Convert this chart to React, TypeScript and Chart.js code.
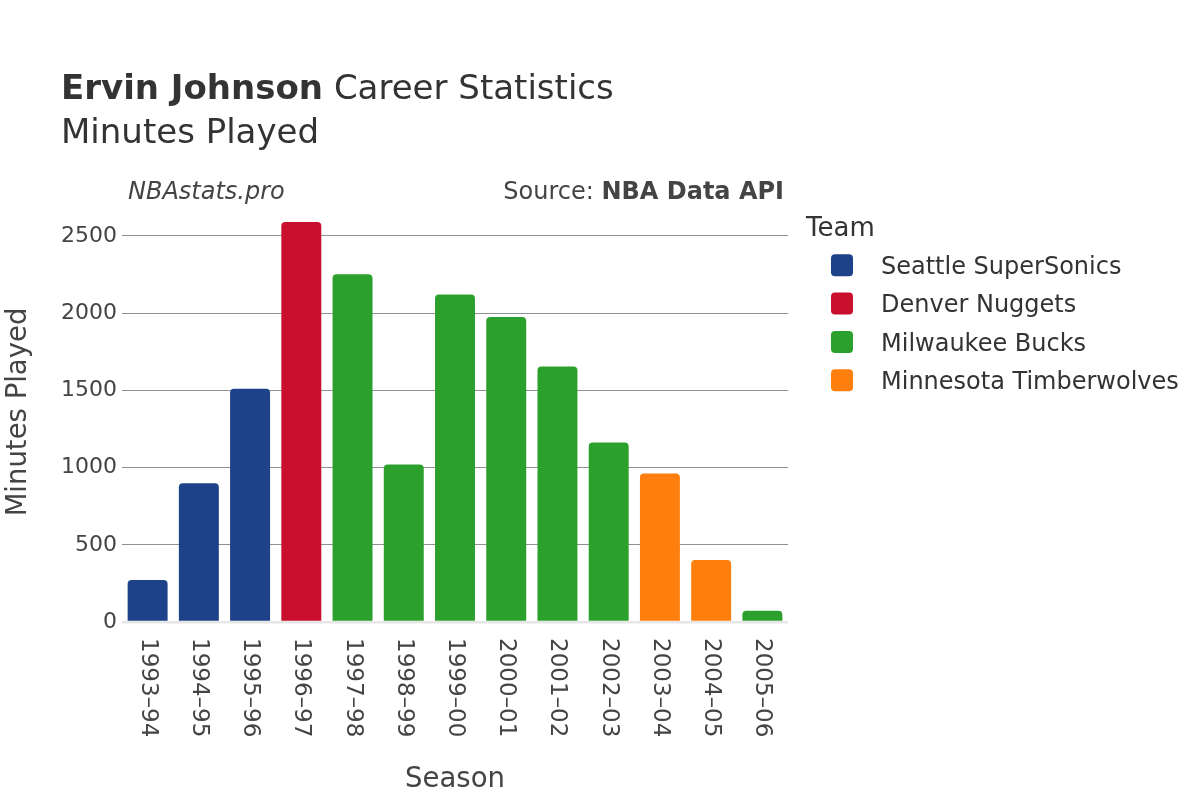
import React, { useEffect, useRef } from "react";
import { Chart, registerables } from "chart.js";

Chart.register(...registerables);

const seasons = ["1993–94", "1994–95", "1995–96", "1996–97", "1997–98", "1998–99", "1999–00", "2000–01", "2001–02", "2002–03", "2003–04", "2004–05", "2005–06"];
const teams = ["Seattle SuperSonics", "Denver Nuggets", "Milwaukee Bucks", "Minnesota Timberwolves"];
const teamColors = ["#1d428a", "#c8102e", "#2ca02c", "#ff7f0e"];
const seasonTeam = [0, 0, 0, 1, 2, 2, 2, 2, 2, 2, 3, 3, 2];
const minutes = [272, 899, 1511, 2591, 2252, 1020, 2121, 1975, 1654, 1163, 962, 402, 73];
const yTickValues = [0, 500, 1000, 1500, 2000, 2500];

const FONT = "'DejaVu Sans', 'Noto Sans', sans-serif";

const decorPlugin = {
  id: "decor",
  beforeDraw(chart: any) {
    const ctx = chart.ctx;
    ctx.save();
    ctx.fillStyle = "#ffffff";
    ctx.fillRect(0, 0, chart.width, chart.height);
    ctx.restore();
  },
  afterDraw(chart: any) {
    const ctx = chart.ctx;
    const xs = chart.scales.x;
    const area = chart.chartArea;
    ctx.save();

    // Title
    ctx.fillStyle = "#333333";
    ctx.textAlign = "left";
    ctx.textBaseline = "alphabetic";
    ctx.font = `bold 34px ${FONT}`;
    const boldPart = "Ervin Johnson";
    ctx.fillText(boldPart, 61, 99);
    const bw = ctx.measureText(boldPart).width;
    ctx.font = `34px ${FONT}`;
    ctx.fillText(" Career Statistics", 61 + bw, 99);
    ctx.fillText("Minutes Played", 61, 143);

    // Annotations
    ctx.font = `italic 24px ${FONT}`;
    ctx.fillStyle = "#444444";
    ctx.fillText("NBAstats.pro", 128, 199);
    ctx.font = `bold 24px ${FONT}`;
    const srcBold = "NBA Data API";
    const sbw = ctx.measureText(srcBold).width;
    ctx.textAlign = "right";
    ctx.fillText(srcBold, 784, 199);
    ctx.font = `24px ${FONT}`;
    ctx.fillText("Source: ", 784 - sbw, 199);

    // X tick labels rotated clockwise
    ctx.fillStyle = "#444444";
    ctx.font = `23px ${FONT}`;
    ctx.textAlign = "left";
    ctx.textBaseline = "middle";
    seasons.forEach((s, i) => {
      const x = xs.getPixelForValue(i);
      ctx.save();
      ctx.translate(x, area.bottom + 16);
      ctx.rotate(Math.PI / 2);
      ctx.fillText(s, 0, 0);
      ctx.restore();
    });

    // Axis titles
    ctx.font = `27.5px ${FONT}`;
    ctx.fillStyle = "#444444";
    ctx.textAlign = "center";
    ctx.textBaseline = "alphabetic";
    ctx.fillText("Season", (area.left + area.right) / 2, 787);
    ctx.save();
    ctx.translate(26, (area.top + area.bottom) / 2);
    ctx.rotate(-Math.PI / 2);
    ctx.fillText("Minutes Played", 0, 0);
    ctx.restore();

    // Legend
    ctx.textAlign = "left";
    ctx.fillStyle = "#333333";
    ctx.font = `26px ${FONT}`;
    ctx.fillText("Team", 806, 236);
    ctx.font = `24px ${FONT}`;
    chart.data.datasets.forEach((ds: any, i: number) => {
      const cy = 265.3 + 38.3 * i;
      ctx.fillStyle = ds.backgroundColor;
      ctx.beginPath();
      if (ctx.roundRect) {
        ctx.roundRect(831, cy - 11, 22, 22, 4);
      } else {
        ctx.rect(831, cy - 11, 22, 22);
      }
      ctx.fill();
      ctx.fillStyle = "#333333";
      ctx.fillText(ds.label, 881, cy + 8.7);
    });

    ctx.restore();
  },
};

export default function App() {
  const canvasRef = useRef<HTMLCanvasElement | null>(null);

  useEffect(() => {
    const canvas = canvasRef.current;
    if (!canvas) return;
    const datasets = teams.map((team, t) => ({
      label: team,
      data: minutes.map((m, i) => (seasonTeam[i] === t ? m : null)),
      backgroundColor: teamColors[t],
      borderRadius: 4,
      borderSkipped: "start" as const,
      grouped: false,
      categoryPercentage: 1,
      barPercentage: 0.78,
    }));

    const chart = new Chart(canvas, {
      type: "bar",
      data: { labels: seasons, datasets },
      plugins: [decorPlugin],
      options: {
        responsive: false,
        animation: false,
        maintainAspectRatio: false,
        layout: { padding: { left: 0, right: 412, top: 202, bottom: 0 } },
        plugins: {
          legend: { display: false },
          title: { display: false },
          tooltip: { enabled: false },
        },
        scales: {
          x: {
            type: "category",
            grid: { display: false, drawTicks: false },
            border: { display: false },
            ticks: { display: false },
            afterFit(scale: any) {
              scale.height = 178;
            },
          },
          y: {
            type: "linear",
            min: 0,
            max: 2720,
            border: { display: false },
            grid: {
              drawTicks: false,
              color: (c: any) => (c.tick && c.tick.value === 0 ? "#e6e6e6" : "#909090"),
              lineWidth: (c: any) => (c.tick && c.tick.value === 0 ? 2.5 : 1),
            },
            afterBuildTicks(scale: any) {
              scale.ticks = yTickValues.map((v) => ({ value: v }));
            },
            ticks: {
              padding: 5,
              color: "#444444",
              font: { family: FONT, size: 22 },
              callback: (v: any) => String(v),
            },
            afterFit(scale: any) {
              scale.width = 122;
            },
          },
        },
      },
    });
    return () => chart.destroy();
  }, []);

  return (
    <div style={{ position: "fixed", left: 0, top: 0, width: 1200, height: 800, background: "#fff" }}>
      <canvas ref={canvasRef} width={1200} height={800} style={{ width: 1200, height: 800, display: "block" }} />
    </div>
  );
}
